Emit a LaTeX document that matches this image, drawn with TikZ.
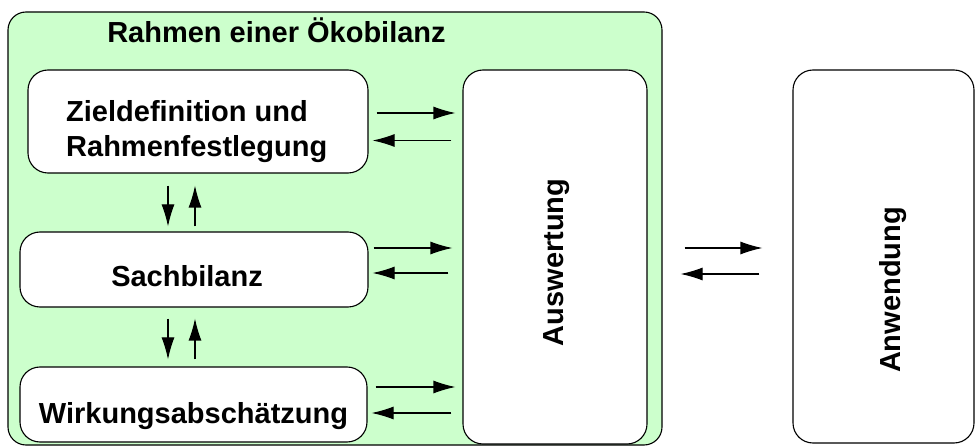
\documentclass[tikz,border=0pt]{standalone}
\usepackage{fontspec}
\setmainfont{Liberation Sans}
\usetikzlibrary{arrows.meta,calc}
\definecolor{framegreen}{HTML}{CCFFCC}
\begin{document}
\begin{tikzpicture}[x=1pt,y=-1pt,
  panel/.style={draw, line width=1.1pt, rounded corners=20pt, fill=white, inner sep=0pt},
  lbl/.style={font=\bfseries\fontsize{29}{35}\selectfont, inner sep=0pt},
  arr/.style={line width=1.1pt, -{Latex[length=22pt,width=13pt]}}]
\useasboundingbox (0,0) rectangle (975,446);

% outer frame of the LCA
\node[panel, fill=framegreen, rounded corners=18pt, minimum width=654pt, minimum height=433pt] (outer) at (335,228.5) {};
\node[lbl, anchor=base] (title) at (276.5,43) {Rahmen einer Ökobilanz};

% phase boxes
\node[panel, minimum width=340pt, minimum height=103pt] (ziel) at (198,121.5) {};
\node[panel, minimum width=348pt, minimum height=75pt] (sach) at (194,269.5) {};
\node[panel, minimum width=347pt, minimum height=75pt] (wirk) at (193.5,404.5) {};
\node[panel, minimum width=184pt, minimum height=374pt] (ausw) at (555,257) {};
\node[panel, minimum width=181pt, minimum height=373pt] (anw) at (883.5,256.5) {};

% box texts
\node[lbl, align=left, anchor=north west] (zielT) at ($(ziel.center)+(-132,-21)$) {Zieldefinition und\\Rahmenfestlegung};
\node[lbl, anchor=base] (sachT) at ($(sach.center)+(-7,17.5)$) {Sachbilanz};
\node[lbl, anchor=base] (wirkT) at ($(wirk.center)+(0,18.5)$) {Wirkungsabschätzung};
\node[lbl, anchor=base, rotate=90] (auswT) at ($(ausw.center)+(8,5.5)$) {Auswertung};
\node[lbl, anchor=base, rotate=90] (anwT) at ($(anw.center)+(16.5,33.5)$) {Anwendung};

% phases <-> interpretation
\draw[arr] ($(ziel.east)+(8,-8.5)$) -- ($(ausw.west|-ziel.east)+(-7,-8.5)$);
\draw[arr] ($(ausw.west|-ziel.east)+(-11,19)$) -- ($(ziel.east)+(4,19)$);
\draw[arr] ($(sach.east)+(5,-21.5)$) -- ($(ausw.west|-sach.east)+(-10,-21.5)$);
\draw[arr] ($(ausw.west|-sach.east)+(-14,3.5)$) -- ($(sach.east)+(4,3.5)$);
\draw[arr] ($(wirk.east)+(8,-17.5)$) -- ($(ausw.west|-wirk.east)+(-7,-17.5)$);
\draw[arr] ($(ausw.west|-wirk.east)+(-11,8.5)$) -- ($(wirk.east)+(4,8.5)$);

% phases <-> phases
\draw[arr] ($(ziel.south)+(-30,12)$) -- ($(ziel.south|-sach.north)+(-30,-5)$);
\draw[arr] ($(ziel.south|-sach.north)+(-3,-5)$) -- ($(ziel.south)+(-3,12)$);
\draw[arr] ($(sach.south)+(-26,11)$) -- ($(sach.south|-wirk.north)+(-26,-7)$);
\draw[arr] ($(sach.south|-wirk.north)+(1,-7)$) -- ($(sach.south)+(1,11)$);

% interpretation <-> application
\draw[arr] ($(ausw.east)+(37,-9)$) -- ($(anw.west|-ausw.east)+(-30,-9)$);
\draw[arr] ($(anw.west|-ausw.east)+(-33,17)$) -- ($(ausw.east)+(33,17)$);
\end{tikzpicture}
\end{document}
